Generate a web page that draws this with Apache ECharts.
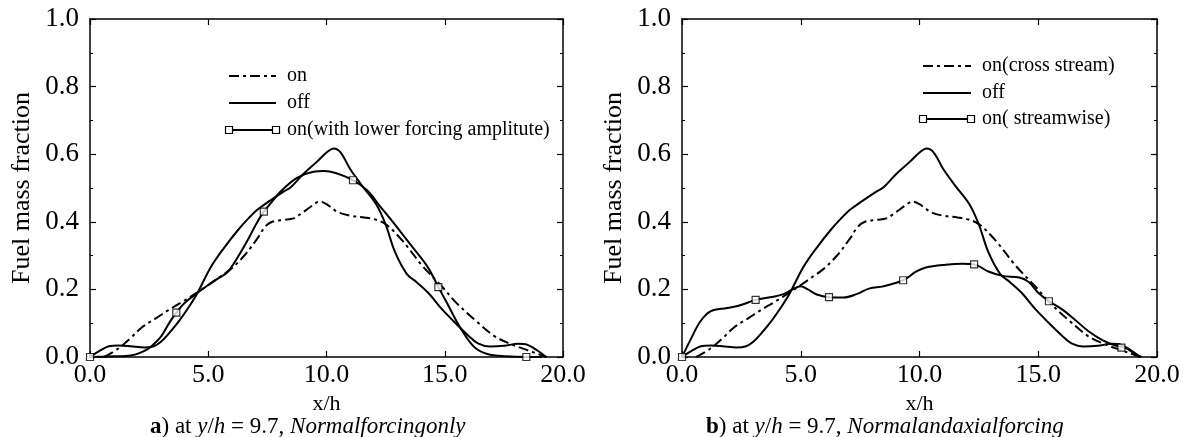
<!DOCTYPE html>
<html>
<head>
<meta charset="utf-8">
<script src="https://cdn.jsdelivr.net/npm/echarts@6/dist/echarts.min.js"></script>
<style>
html,body{margin:0;padding:0;background:#fff;}
#chart{width:1185px;height:437px;}
</style>
</head>
<body>
<div id="chart"></div>
<script>
// ---- data ----
// "off" (identical in both panels)
const offX = [0, 0.4, 0.8, 1.2, 1.7, 2.3, 2.7, 3.0, 3.4, 3.8, 4.2, 4.55, 5.1, 5.67, 6.25, 6.7, 7.1, 7.6, 8.2, 8.5, 9.0, 9.6, 10.0, 10.3, 10.6, 11.0, 11.5, 12.1, 12.5, 12.9, 13.4, 13.8, 14.3, 14.9, 15.5, 16.0, 16.4, 16.9, 17.5, 18.1, 18.5, 18.9, 19.3];
const offY = [0, 0.018, 0.032, 0.034, 0.032, 0.028, 0.032, 0.045, 0.075, 0.11, 0.15, 0.19, 0.265, 0.323, 0.375, 0.41, 0.437, 0.462, 0.49, 0.503, 0.54, 0.578, 0.605, 0.617, 0.605, 0.556, 0.507, 0.452, 0.392, 0.31, 0.245, 0.222, 0.19, 0.14, 0.097, 0.063, 0.04, 0.031, 0.033, 0.039, 0.036, 0.02, 0];
// "on" / "on(cross stream)" (dash-dot, identical in both panels)
const onX = [0.6, 1.2, 1.7, 2.2, 2.8, 3.3, 3.9, 4.55, 5.0, 5.45, 5.95, 6.5, 7.07, 7.4, 7.7, 8.2, 8.6, 9.0, 9.4, 9.7, 10.0, 10.5, 11.0, 11.6, 12.0, 12.5, 13.2, 14.05, 14.9, 15.45, 16.3, 17.1, 17.8, 18.5, 19.1, 19.3];
const onY = [0, 0.025, 0.055, 0.088, 0.115, 0.138, 0.163, 0.192, 0.213, 0.235, 0.26, 0.298, 0.35, 0.385, 0.4, 0.406, 0.41, 0.428, 0.448, 0.46, 0.452, 0.428, 0.418, 0.413, 0.408, 0.393, 0.345, 0.27, 0.207, 0.163, 0.108, 0.062, 0.038, 0.02, 0.005, 0];
// panel a: "on(with lower forcing amplitute)"
const lowX = [0, 0.5, 1.0, 1.5, 1.9, 2.3, 2.6, 3.0, 3.3, 3.65, 4.0, 4.55, 5.0, 5.4, 5.8, 6.2, 6.7, 7.0, 7.35, 7.7, 8.05, 8.75, 9.45, 9.9, 10.35, 11.12, 11.75, 12.24, 12.87, 13.58, 14.28, 14.73, 15.1, 15.68, 16.24, 16.8, 17.6, 18.45, 19.1];
const lowY = [0, 0.001, 0.002, 0.003, 0.007, 0.018, 0.032, 0.06, 0.095, 0.131, 0.16, 0.19, 0.213, 0.232, 0.25, 0.29, 0.35, 0.39, 0.43, 0.46, 0.489, 0.53, 0.548, 0.55, 0.545, 0.523, 0.491, 0.448, 0.394, 0.33, 0.266, 0.207, 0.159, 0.084, 0.03, 0.009, 0.002, 0, 0];
const lowMarkX = [0, 3.65, 7.35, 11.12, 14.73, 18.45];
const lowMarkY = [0, 0.131, 0.43, 0.523, 0.207, 0];
// panel b: "on( streamwise)"
const strX = [0, 0.35, 0.77, 1.2, 1.9, 2.45, 3.1, 3.85, 4.27, 4.7, 5.0, 5.3, 5.67, 6.19, 6.8, 7.35, 7.9, 8.47, 9.31, 9.87, 10.27, 11.1, 11.8, 12.3, 12.9, 13.5, 14.2, 14.6, 15.0, 15.45, 16.0, 16.57, 17.1, 17.7, 18.25, 18.7, 19.1, 19.35];
const strY = [0, 0.05, 0.105, 0.135, 0.145, 0.153, 0.169, 0.178, 0.186, 0.202, 0.209, 0.2, 0.185, 0.177, 0.176, 0.186, 0.203, 0.209, 0.227, 0.253, 0.265, 0.273, 0.276, 0.274, 0.253, 0.24, 0.235, 0.222, 0.19, 0.165, 0.141, 0.109, 0.077, 0.05, 0.034, 0.026, 0.008, 0];
const strMarkX = [0, 3.1, 6.19, 9.31, 12.3, 15.45, 18.5];
const strMarkY = [0, 0.169, 0.177, 0.227, 0.274, 0.165, 0.028];

const xTickLabels = ['0.0', '5.0', '10.0', '15.0', '20.0'];
const yTickLabels = ['0.0', '0.2', '0.4', '0.6', '0.8', '1.0'];
const legendA = ['on', 'off', 'on(with lower forcing amplitute)'];
const legendB = ['on(cross stream)', 'off', 'on( streamwise)'];
const yName = 'Fuel mass fraction';
const xName = 'x/h';

// ---- build ----
const zip = (xs, ys) => xs.map((x, i) => [x, ys[i]]);
const FONT = '"Liberation Serif", "Times New Roman", serif';
const DASHDOT = [10, 4, 3, 4];

const grids = [
  {left: 90, top: 19, width: 473, height: 338},
  {left: 682, top: 19, width: 475, height: 338}
];

const xAxes = [], yAxes = [];
grids.forEach((g, gi) => {
  const common = {type: 'value', gridIndex: gi, min: 0, max: 20, interval: 5,
    axisLine: {show: true, onZero: false, lineStyle: {color: '#000', width: 1.5}},
    axisTick: {show: true, inside: true, length: 6, lineStyle: {color: '#000', width: 1.2}},
    splitLine: {show: false}};
  xAxes.push(Object.assign({}, common, {position: 'bottom',
    axisLabel: {color: '#000', fontFamily: FONT, fontSize: 26, margin: 5,
      formatter: v => xTickLabels[Math.round(v / 5)]},
    name: xName, nameLocation: 'middle', nameGap: 32,
    nameTextStyle: {color: '#000', fontFamily: FONT, fontSize: 22}}));
  xAxes.push(Object.assign({}, common, {position: 'top', axisLabel: {show: false}}));
  const ycommon = {type: 'value', gridIndex: gi, min: 0, max: 1, interval: 0.2,
    axisLine: {show: true, onZero: false, lineStyle: {color: '#000', width: 1.5}},
    axisTick: {show: true, inside: true, length: 6, lineStyle: {color: '#000', width: 1.2}},
    minorTick: {show: true, splitNumber: 2, length: 3, lineStyle: {color: '#000', width: 1}},
    splitLine: {show: false}};
  yAxes.push(Object.assign({}, ycommon, {position: 'left',
    axisLabel: {color: '#000', fontFamily: FONT, fontSize: 27, margin: 11,
      formatter: v => yTickLabels[Math.round(v / 0.2)]},
    name: yName, nameLocation: 'middle', nameGap: 55,
    nameTextStyle: {color: '#000', fontFamily: FONT, fontSize: 26}}));
  yAxes.push(Object.assign({}, ycommon, {position: 'right', axisLabel: {show: false}}));
});

function lineSeries(data, gi, dash) {
  return {type: 'line', xAxisIndex: gi * 2, yAxisIndex: gi * 2, data: data,
    smooth: 0.35, showSymbol: false, symbol: 'none', silent: true, animation: false,
    lineStyle: {color: '#000', width: 2, type: dash ? DASHDOT : 'solid'}};
}
function markSeries(data, gi) {
  return {type: 'scatter', xAxisIndex: gi * 2, yAxisIndex: gi * 2, data: data,
    symbol: 'rect', symbolSize: 7, silent: true, animation: false, z: 5,
    itemStyle: {color: '#fff', borderColor: '#000', borderWidth: 1.2}};
}

const series = [
  lineSeries(zip(offX, offY), 0, false),
  lineSeries(zip(onX, onY), 0, true),
  lineSeries(zip(lowX, lowY), 0, false),
  markSeries(zip(lowMarkX, lowMarkY), 0),
  lineSeries(zip(offX, offY), 1, false),
  lineSeries(zip(onX, onY), 1, true),
  lineSeries(zip(strX, strY), 1, false),
  markSeries(zip(strMarkX, strMarkY), 1)
];

// legends drawn as graphic elements (sample line + text)
function legendGroup(x0, ys, len, gap, labels) {
  const els = [];
  labels.forEach((t, i) => {
    const y = ys[i];
    els.push({type: 'line', shape: {x1: x0, y1: y, x2: x0 + len, y2: y},
      style: {stroke: '#000', lineWidth: 2, lineDash: i === 0 ? DASHDOT : null}});
    if (i === 2) {
      [x0, x0 + len].forEach(cx => els.push({type: 'rect',
        shape: {x: cx - 3.5, y: y - 3.5, width: 7, height: 7},
        style: {fill: '#fff', stroke: '#000', lineWidth: 1.2}}));
    }
    els.push({type: 'text', x: x0 + len + gap, y: y,
      style: {text: t, fill: '#000', font: '20px ' + FONT, textVerticalAlign: 'middle', verticalAlign: 'middle'}});
  });
  return els;
}

function caption(x, y, letter, tail) {
  return {type: 'text', x: x, y: y,
    style: {text: '{b|' + letter + '}) at {i|y}/{i|h} = 9.7, {i|' + tail + '}',
      font: '23px ' + FONT, fill: '#000', verticalAlign: 'middle', textVerticalAlign: 'middle',
      rich: {
        b: {fontFamily: FONT, fontSize: 23, fontWeight: 'bold', fill: '#000'},
        i: {fontFamily: FONT, fontSize: 23, fontStyle: 'italic', fill: '#000'}
      }}};
}

const graphic = []
  .concat(legendGroup(229, [76, 103, 130], 47, 11, legendA))
  .concat(legendGroup(923, [66, 93, 119], 48, 11, legendB))
  .concat([caption(150, 427, 'a', 'Normalforcingonly'), caption(706, 427, 'b', 'Normalandaxialforcing')]);

const chart = echarts.init(document.getElementById('chart'), null, {renderer: 'canvas'});
chart.setOption({
  animation: false,
  backgroundColor: '#fff',
  grid: grids.map(g => Object.assign({containLabel: false}, g)),
  xAxis: xAxes,
  yAxis: yAxes,
  series: series,
  graphic: graphic
});
</script>
</body>
</html>
